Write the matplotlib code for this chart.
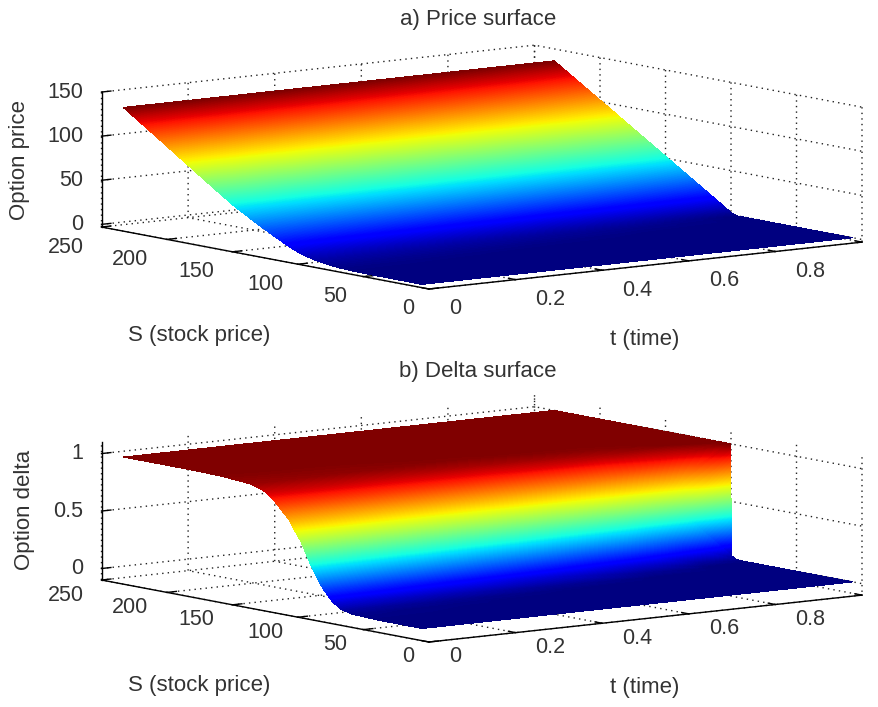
import numpy as np
import matplotlib
matplotlib.use("Agg")
import matplotlib.pyplot as plt
from matplotlib.tri import Triangulation
from mpl_toolkits.mplot3d import proj3d

# ---------- values ----------
title_a = "a) Price surface"
title_b = "b) Delta surface"
zlabel_a = "Option price"
zlabel_b = "Option delta"
slabel = "S (stock price)"
tlabel = "t (time)"

s_ticks = [0, 50, 100, 150, 200, 250]
t_ticks = [0, 0.2, 0.4, 0.6, 0.8, 1.0]
t_tick_labels = ["0", "0.2", "0.4", "0.6", "0.8", ""]
z_ticks_a = [0, 50, 100, 150]
z_ticks_b = [0, 0.5, 1]
z_tick_labels_b = ["0", "0.5", "1"]

price_t = [0.005, 0.25, 0.5, 0.75, 1.0]
price_s = [7, 40, 60, 70, 80, 90, 95, 100, 105, 110, 120, 130, 150, 170, 190, 210, 235]
price_v = [
    [0, 0, 0, 0, 0],
    [0, 0, 0, 0, 0],
    [0.3, 0.2, 0.1, 0, 0],
    [1, 0.7, 0.3, 0.1, 0],
    [2.5, 1.9, 1.2, 0.5, 0],
    [5, 4, 3, 1.6, 0],
    [6.8, 5.6, 4.3, 3, 0],
    [9, 7.7, 6.6, 5.2, 2.5],
    [12, 11, 9.8, 8.6, 7.5],
    [15.5, 14.5, 13.6, 13, 12.5],
    [23, 22.8, 22.6, 22.5, 22.4],
    [31, 31.4, 31.8, 32.1, 32.4],
    [48, 49, 50, 51.2, 52.3],
    [68.5, 69.3, 70, 71, 72],
    [89.5, 90, 90.5, 91.2, 92],
    [110.5, 110.8, 111, 111.4, 111.7],
    [136.5, 136.5, 136.5, 136.5, 136.5],
]

delta_t = [0.005, 0.25, 0.5, 0.75, 0.9, 1.0]
delta_s = [7, 40, 60, 68, 75, 83, 88, 92, 96, 99.9, 100.1, 104, 108, 116, 120, 126, 138, 160, 184, 235]
delta_v = [
    [0, 0, 0, 0, 0, 0],
    [0.001, 0, 0, 0, 0, 0],
    [0.01, 0.005, 0.001, 0, 0, 0],
    [0.03, 0.015, 0.005, 0, 0, 0],
    [0.08, 0.05, 0.02, 0.002, 0, 0],
    [0.19, 0.14, 0.08, 0.02, 0, 0],
    [0.29, 0.24, 0.17, 0.07, 0.005, 0],
    [0.37, 0.33, 0.27, 0.16, 0.03, 0],
    [0.47, 0.44, 0.39, 0.30, 0.14, 0],
    [0.57, 0.54, 0.52, 0.48, 0.40, 0],
    [0.57, 0.55, 0.53, 0.50, 0.46, 1],
    [0.64, 0.63, 0.63, 0.66, 0.76, 1],
    [0.72, 0.71, 0.73, 0.79, 0.93, 1],
    [0.82, 0.84, 0.88, 0.95, 0.998, 1],
    [0.87, 0.89, 0.92, 0.97, 1, 1],
    [0.93, 0.94, 0.965, 0.99, 1, 1],
    [0.975, 0.985, 0.995, 1, 1, 1],
    [0.995, 0.998, 1, 1, 1, 1],
    [1, 1, 1, 1, 1, 1],
    [1, 1, 1, 1, 1, 1],
]

# ---------- style ----------
plt.rcParams["font.family"] = ["Liberation Sans", "DejaVu Sans"]
plt.rcParams["grid.color"] = "#222222"
plt.rcParams["grid.linewidth"] = 1.0
plt.rcParams["grid.linestyle"] = (0, (1, 3))
TXT = "#333333"
TICK_FS = 15.5
LAB_FS = 16

W, H = 879, 707
fig = plt.figure(figsize=(W / 100, H / 100), dpi=100, facecolor="white")
over = fig.add_axes([0, 0, 1, 1], zorder=5)
over.set_xlim(0, W)
over.set_ylim(H, 0)
over.axis("off")


def to_image(ax, x, y, z):
    px, py, _ = proj3d.proj_transform(np.asarray(x, float), np.asarray(y, float),
                                      np.asarray(z, float), ax.get_proj())
    d = ax.transData.transform(np.column_stack([px, py]))
    return d[:, 0], H - d[:, 1]


def panel(zlim, zticks, zlabels, box_z, front, tvals, svals, vals, zmax,
          tdy, title, title_y, zlabel, zlabel_x, zlabel_y, slab_y, tlab_y):
    ax = fig.add_axes([0.1, 0.1, 0.8, 0.8], projection="3d", zorder=1)
    ax.patch.set_alpha(0)
    ax.set_proj_type("ortho")
    ax.view_init(elev=8.23, azim=-127.1)
    ax.set_box_aspect((543, 543, box_z))
    ax.set_xlim(0, 1, view_margin=0)
    ax.set_ylim(0, 250, view_margin=0)
    ax.set_zlim(zlim[0], zlim[1], view_margin=0)
    ax.set_xticks(t_ticks)
    ax.set_yticks(s_ticks)
    ax.set_zticks(zticks)
    ax.set_xticklabels([])
    ax.set_yticklabels([])
    ax.set_zticklabels([])
    for a in (ax.xaxis, ax.yaxis, ax.zaxis):
        a.set_pane_color((1, 1, 1, 0))
        a.pane.set_edgecolor((1, 1, 1, 0))
        a.line.set_color("black")
        a.line.set_linewidth(1.0)
        a._axinfo["tick"]["inward_factor"] = 0
        a._axinfo["tick"]["outward_factor"] = 0.27
        a._axinfo["tick"]["linewidth"] = {True: 1.0, False: 1.0}
        a._axinfo["tick"]["color"] = "black"

    # calibrate the axes box so that the 3-D frame lands where the reference has it
    cx, cy, side = W / 2, H / 2, 700.0
    for _ in range(4):
        ax.set_position([(cx - side / 2) / W, 1 - (cy + side / 2) / H, side / W, side / H])
        ax.apply_aspect()
        fig.canvas.draw()
        xs, ys = to_image(ax, [0, 1], [0, 0], [zlim[0], zlim[0]])
        k = 433.0 / (xs[1] - xs[0])
        side *= k
        cx = cx + (front[0] - xs[0])
        cy = cy + (front[1] - ys[0])
    ax.set_position([(cx - side / 2) / W, 1 - (cy + side / 2) / H, side / W, side / H])
    ax.apply_aspect()
    fig.canvas.draw()

    # surface: linear colour through jet inside each triangle (shading interp)
    T, S = np.meshgrid(tvals, svals)
    Z = np.asarray(vals, float)
    x, y = to_image(ax, T.ravel(), S.ravel(), Z.ravel())
    nr, nc = Z.shape
    tris = []
    for i in range(nr - 1):
        for j in range(nc - 1):
            a0 = i * nc + j
            tris += [[a0, a0 + 1, a0 + nc], [a0 + 1, a0 + nc + 1, a0 + nc]]
    tri = Triangulation(x, y, np.array(tris))
    levels = np.linspace(0, zmax, 257)
    over.tricontourf(tri, Z.ravel(), levels=levels, cmap="jet", extend="both",
                     antialiased=False)

    # tick labels
    sx, sy = to_image(ax, [0] * len(s_ticks), s_ticks, [zlim[0]] * len(s_ticks))
    for v, px, py, off in zip(s_ticks, sx, sy, [-21, -28, -33, -36, -37, -36]):
        over.text(px + off, py + tdy, str(v), fontsize=TICK_FS, color=TXT, ha="center", va="center")
    tx, ty = to_image(ax, t_ticks, [0] * len(t_ticks), [zlim[0]] * len(t_ticks))
    for lab, px, py, off in zip(t_tick_labels, tx, ty, [26, 35, 35, 35, 35, 35]):
        if lab:
            over.text(px + off, py + tdy, lab, fontsize=TICK_FS, color=TXT, ha="center", va="center")
    zx, zy = to_image(ax, [0] * len(zticks), [250] * len(zticks), zticks)
    for lab, px, py in zip(zlabels, zx, zy):
        over.text(px - 18, py, lab, fontsize=TICK_FS, color=TXT, ha="right", va="center")

    over.text(478, title_y, title, fontsize=LAB_FS, color=TXT, ha="center", va="center")
    over.text(zlabel_x, zlabel_y, zlabel, fontsize=LAB_FS, color=TXT, ha="center", va="center", rotation=90)
    over.text(199, slab_y, slabel, fontsize=LAB_FS, color=TXT, ha="center", va="center")
    over.text(645, tlab_y, tlabel, fontsize=LAB_FS, color=TXT, ha="center", va="center")


panel((-3, 150), z_ticks_a, [str(v) for v in z_ticks_a], 136.4, (429, 289),
      price_t, price_s, price_v, 136.5, 20,
      title_a, 19, zlabel_a, 20, 160, 335, 340)
panel((-0.1, 1.1), z_ticks_b, z_tick_labels_b, 139.4, (429, 642),
      delta_t, delta_s, delta_v, 1.0, 15,
      title_b, 372, zlabel_b, 25, 510, 685, 688)

fig.savefig("out.png", dpi=100, facecolor="white")
